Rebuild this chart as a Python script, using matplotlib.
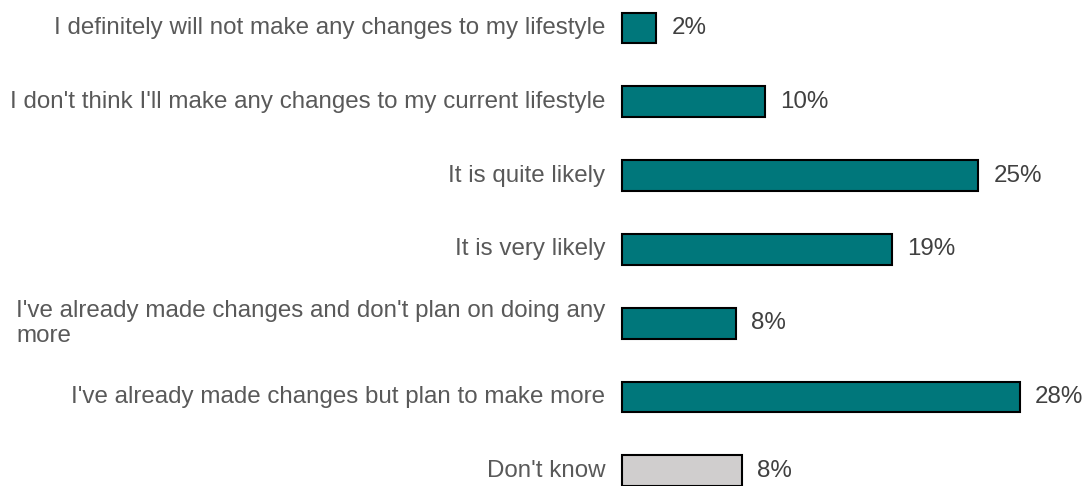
import matplotlib

matplotlib.use("Agg")
import matplotlib.pyplot as plt

# ---------------------------------------------------------------------------
# Data
# ---------------------------------------------------------------------------
categories = [
    "I definitely will not make any changes to my lifestyle",
    "I don't think I'll make any changes to my current lifestyle",
    "It is quite likely",
    "It is very likely",
    "I've already made changes and don't plan on doing any\nmore",
    "I've already made changes but plan to make more",
    "Don't know",
]
values = [2.4, 10.05, 25.1, 19.0, 8.0, 28.0, 8.45]
value_labels = ["2%", "10%", "25%", "19%", "8%", "28%", "8%"]
bar_colors = ["#00777B"] * 6 + ["#D0CECE"]

PX_PER_UNIT = 14.2
W, H = 1090, 486
LEFT_PX = 622
TOP_PX, STEP_PX = 28.0, 73.8

plt.rcParams["font.family"] = ["Liberation Sans", "DejaVu Sans"]

fig = plt.figure(figsize=(W / 100, H / 100), dpi=100)
ax = fig.add_axes([0, 0, 1, 1])

pos = list(range(len(categories)))
ax.barh(pos, values, height=0.42, color=bar_colors,
        edgecolor="#000000", linewidth=1.5)

ax.set_xlim(-LEFT_PX / PX_PER_UNIT, (W - LEFT_PX) / PX_PER_UNIT)
ax.set_ylim((H - TOP_PX) / STEP_PX, -TOP_PX / STEP_PX)

for i, (cat, v, lab) in enumerate(zip(categories, values, value_labels)):
    ax.annotate(cat, xy=(0, i), xytext=(-12, 0), textcoords="offset points",
                ha="right", va="center", multialignment="left",
                fontsize=17.4, color="#595959", linespacing=1.17)
    ax.annotate(lab, xy=(v, i), xytext=(11, 0), textcoords="offset points",
                ha="left", va="center", fontsize=17.4, color="#404040")

ax.axis("off")
fig.savefig("out.png", dpi=100)
plt.close(fig)
